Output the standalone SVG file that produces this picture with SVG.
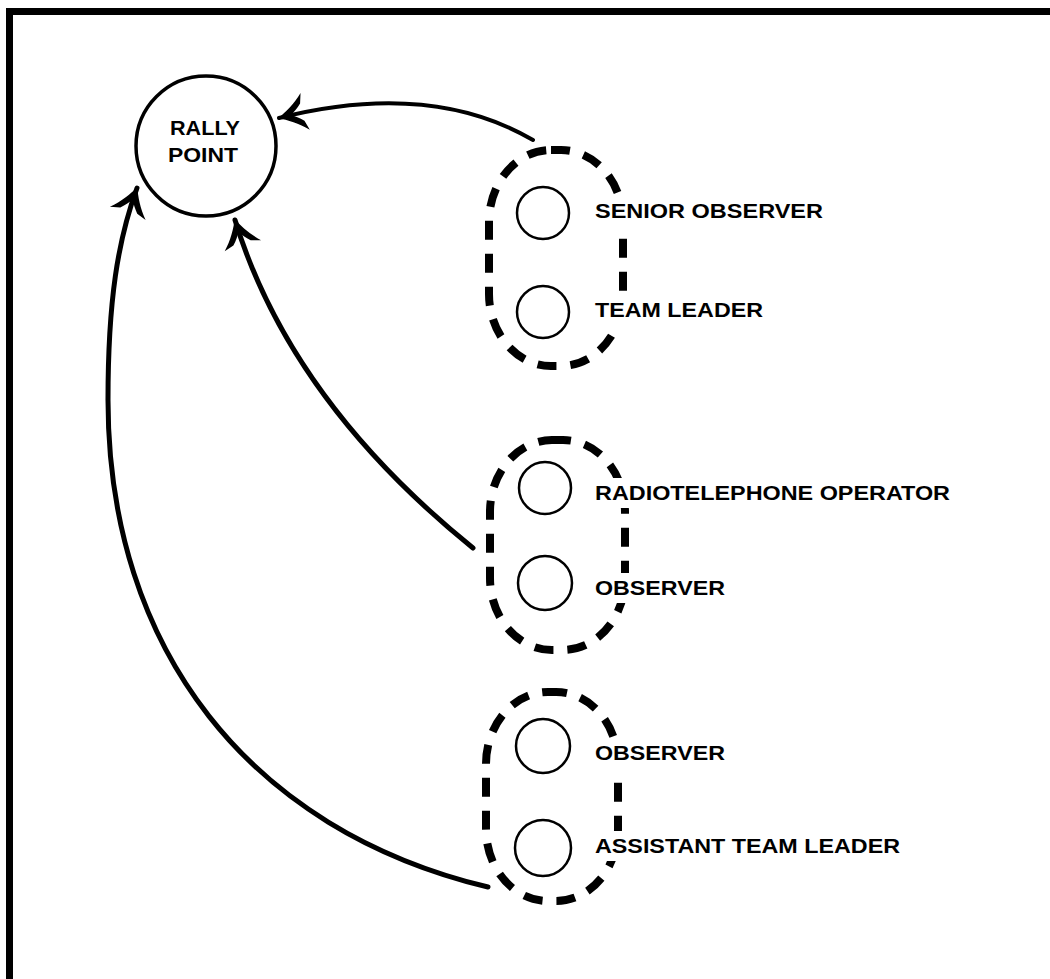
<svg xmlns="http://www.w3.org/2000/svg" width="1050" height="979" viewBox="0 0 1050 979">
<style>
.frame{fill:none;stroke:#000;stroke-width:7}
.big{fill:#fff;stroke:#000;stroke-width:3.5}
.mem{fill:#fff;stroke:#000;stroke-width:2.5}
.grp{fill:none;stroke:#000;stroke-width:8;stroke-dasharray:19 14;stroke-linecap:butt}
.lbl{font-family:"Liberation Sans",Arial,sans-serif;font-size:21px;fill:#000;font-weight:bold}
.rp{font-family:"Liberation Sans",Arial,sans-serif;font-size:21px;fill:#000;text-anchor:middle;font-weight:bold}
.conn{fill:none;stroke:#000;stroke-linecap:round}
</style>
<defs>
<marker id="ah" markerUnits="userSpaceOnUse" viewBox="-34 -22 36 44" refX="0" refY="0" markerWidth="36" markerHeight="44" orient="auto">
<path d="M1,0 C-8,-4 -18,-10 -27,-19 L-24,-9 C-20,-5 -16,-2 -12,0 C-16,2 -20,5 -24,9 L-27,19 C-18,10 -8,4 1,0 Z" fill="#000"/>
</marker>
<mask id="txtcut" maskUnits="userSpaceOnUse" x="0" y="0" width="1050" height="979">
<rect x="0" y="0" width="1050" height="979" fill="#fff"/>
<rect x="591" y="196" width="236" height="30" fill="#000"/>
<rect x="591" y="295" width="176" height="30" fill="#000"/>
<rect x="591" y="478" width="362" height="30" fill="#000"/>
<rect x="591" y="573" width="138" height="30" fill="#000"/>
<rect x="591" y="738" width="138" height="36" fill="#000"/>
<rect x="591" y="831" width="312" height="30" fill="#000"/>
</mask>
</defs>
<rect x="0" y="0" width="1050" height="979" fill="#fff"/>
<path class="frame" d="M9.5,979 V11.5 H1050"/>
<g id="connectors">
<path class="conn" stroke-width="4" d="M533,140 Q430,80 279,118" marker-end="url(#ah)"/>
<path class="conn" stroke-width="5" d="M473,548 Q290,400 235,220" marker-end="url(#ah)"/>
<path class="conn" stroke-width="5" d="M488,887 C250,830 108,650 108,400 C108,300 118,240 137,188" marker-end="url(#ah)"/>
</g>
<g id="rally-point">
<circle class="big" cx="206" cy="146" r="70"/>
<text class="rp" x="205" y="135" textLength="70" lengthAdjust="spacingAndGlyphs">RALLY</text>
<text class="rp" x="203" y="162" textLength="70" lengthAdjust="spacingAndGlyphs">POINT</text>
</g>
<g id="group1" mask="url(#txtcut)">
<rect class="grp" x="489" y="150" width="134" height="216" rx="62" ry="72"/>
</g>
<g id="senior-observer">
<circle class="mem" cx="543" cy="213" r="26"/>
<text class="lbl" x="595" y="218" textLength="228" lengthAdjust="spacingAndGlyphs">SENIOR OBSERVER</text>
</g>
<g id="team-leader">
<circle class="mem" cx="543" cy="312" r="26"/>
<text class="lbl" x="595" y="317" textLength="168" lengthAdjust="spacingAndGlyphs">TEAM LEADER</text>
</g>
<g id="group2" mask="url(#txtcut)">
<rect class="grp" x="490" y="440" width="135" height="210" rx="62" ry="72"/>
</g>
<g id="rto">
<circle class="mem" cx="545" cy="488" r="26"/>
<text class="lbl" x="595" y="500" textLength="355" lengthAdjust="spacingAndGlyphs">RADIOTELEPHONE OPERATOR</text>
</g>
<g id="observer1">
<circle class="mem" cx="545" cy="583" r="27"/>
<text class="lbl" x="595" y="595" textLength="130" lengthAdjust="spacingAndGlyphs">OBSERVER</text>
</g>
<g id="group3" mask="url(#txtcut)">
<rect class="grp" x="486" y="692" width="132" height="209" rx="62" ry="72"/>
</g>
<g id="observer2">
<circle class="mem" cx="543" cy="746" r="27"/>
<text class="lbl" x="595" y="760" textLength="130" lengthAdjust="spacingAndGlyphs">OBSERVER</text>
</g>
<g id="assistant-team-leader">
<circle class="mem" cx="543" cy="848" r="28"/>
<text class="lbl" x="595" y="853" textLength="305" lengthAdjust="spacingAndGlyphs">ASSISTANT TEAM LEADER</text>
</g>
</svg>
